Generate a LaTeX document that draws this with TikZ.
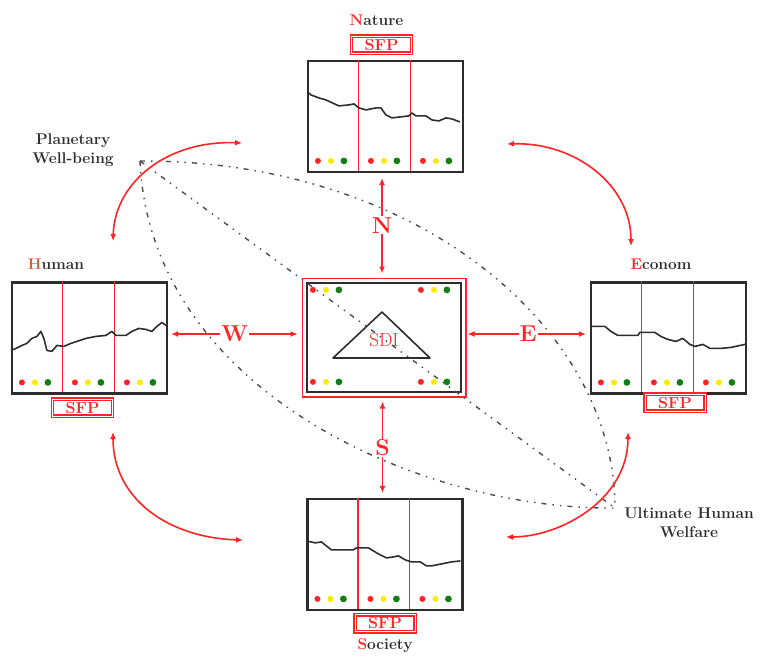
\documentclass[tikz,border=0pt]{standalone}
\usepackage{tikz}
\usetikzlibrary{arrows.meta,positioning,fit}
\definecolor{sfpred}{RGB}{255,35,35}
\definecolor{ink}{RGB}{45,45,45}
\definecolor{humancol}{RGB}{215,95,55}
\definecolor{tlyellow}{RGB}{250,235,0}
\definecolor{tlgreen}{RGB}{20,125,20}
\tikzset{
  chart/.style={draw=ink,line width=2.2pt,minimum width=155pt,minimum height=111pt,inner sep=0pt},
  sfp/.style={draw=sfpred,line width=1.4pt,double=white,double distance=1pt,text=sfpred,
              font=\fontsize{16}{16}\selectfont\bfseries,minimum width=60pt,minimum height=17pt,inner sep=0pt},
  title/.style={text=ink,font=\fontsize{15.5}{19}\selectfont\bfseries,inner sep=0pt,align=center},
  compass/.style={text=sfpred,fill=white,font=\fontsize{23}{23}\selectfont\bfseries,inner sep=1pt},
  link/.style={{Latex[length=7pt,width=6pt]}-{Latex[length=7pt,width=6pt]},draw=sfpred,line width=1.8pt},
  swing/.style={link,line width=1.6pt},
  divide/.style={draw=sfpred,line width=1.4pt},
  trend/.style={draw=ink,line width=1.6pt,line join=round},
  welfare/.style={draw=ink!85,line width=1.4pt,dash pattern=on 5pt off 6pt on 1.5pt off 6pt on 1.5pt off 6pt},
}
% three traffic lights round (x,y)
\newcommand\lights[2]{%
  \fill[sfpred] (#1-13,#2) circle[radius=3pt];
  \fill[tlyellow] (#1,#2) circle[radius=3pt];
  \fill[tlgreen] (#1+13,#2) circle[radius=3.4pt];}
% red thirds and lights inside a chart
\newcommand\thirds{%
  \draw[divide] (51.7,0) -- (51.7,111);
  \draw[divide] (103.3,0) -- (103.3,111);
  \lights{24}{101}\lights{77}{101}\lights{129}{101}}

\begin{document}
\begin{tikzpicture}[x=1pt,y=-1pt]
  \useasboundingbox (0,0) rectangle (761,662);

  % the four sheets
  \node[chart] (nat) at (385.5,116.5) {};
  \node[chart] (hum) at (89.5,338) {};
  \node[chart] (eco) at (668.5,338) {};
  \node[chart] (soc) at (385,554.5) {};

  \begin{scope}[shift={(nat.north west)}]
    \thirds
    \draw[trend] (2,33) -- (4,35) -- (12,38) -- (19,40) -- (32,46) -- (42,45) -- (47,44) -- (52,48)
      -- (59,50) -- (69,48) -- (74,48) -- (79,55) -- (85,58) -- (102,56) -- (105,53) -- (109,56)
      -- (119,56) -- (125,60) -- (132,61) -- (139,58) -- (145,59) -- (153,62);
  \end{scope}
  \begin{scope}[shift={(hum.north west)}]
    \thirds
    \draw[trend] (0,69) -- (5,67) -- (11,64) -- (16,62) -- (21,57) -- (26,55) -- (30,50) -- (33,57)
      -- (36,69) -- (41,70) -- (46,64) -- (53,65) -- (60,62) -- (66,60) -- (75,57) -- (85,55)
      -- (95,54) -- (101,50) -- (105,54) -- (115,54) -- (121,50) -- (128,47) -- (135,48)
      -- (141,50) -- (146,45) -- (151,41) -- (155,44);
  \end{scope}
  \begin{scope}[shift={(eco.north west)}]
    \thirds
    \draw[trend] (0,45) -- (5,45) -- (15,45) -- (21,50) -- (28,54) -- (48,54) -- (50,51) -- (65,51)
      -- (71,55) -- (78,58) -- (86,60) -- (93,57) -- (100,63) -- (105,65) -- (113,63) -- (120,67)
      -- (131,67) -- (141,66) -- (155,63);
  \end{scope}
  \begin{scope}[shift={(soc.north west)}]
    \thirds
    \draw[trend] (0,43) -- (9,45) -- (15,44) -- (20,48) -- (25,52) -- (47,52) -- (50,50) -- (62,50)
      -- (72,56) -- (80,60) -- (87,59) -- (92,58) -- (99,62) -- (105,64) -- (114,64) -- (120,68)
      -- (125,68) -- (135,66) -- (145,64) -- (154,63);
  \end{scope}

  % SFP tags and names
  \node[sfp,above=6pt of nat,xshift=-4pt] (nsfp) {SFP};
  \node[sfp,below=4pt of hum,xshift=-7pt] (hsfp) {SFP};
  \node[sfp,below=-1pt of eco,xshift=6.5pt] (esfp) {SFP};
  \node[sfp,below=3pt of soc] (ssfp) {SFP};
  \node[title,above=10pt of nsfp,xshift=-5pt] (ntitle) {\textcolor{sfpred}{N}ature};
  \node[title,anchor=south] (htitle) at (56,270) {\textcolor{humancol}{H}uman};
  \node[title,anchor=south] (etitle) at (661,270) {\textcolor{sfpred}{E}conom};
  \node[title,below=6pt of ssfp] (stitle) {\textcolor{sfpred}{S}ociety};

  % the SDI sheet
  \node[draw=ink,line width=2.2pt,minimum width=154pt,minimum height=109pt,inner sep=0pt] (sdi) at (384,337.5) {};
  \node[draw=sfpred,line width=1.8pt,fit=(sdi),inner sep=3.5pt] (frame) {};
  \begin{scope}[shift={(sdi.north west)}]
    \lights{20}{8}\lights{128}{8}\lights{20}{100}\lights{128}{100}
  \end{scope}
  \draw[ink,line width=1.6pt,line join=round] (382,312) -- (333,358) -- (430,358) -- cycle;
  \node[text=sfpred,font=\fontsize{19}{19}\selectfont] (sdilabel) at (384,340) {SDI};

  % welfare lens
  \node[title] (pwb) at (73,150) {Planetary\\Well-being};
  \node[title] (uhw) at (689,523) {Ultimate Human\\Welfare};
  \coordinate (pw) at (140,161);
  \coordinate (uw) at (615,508);
  \draw[welfare] (pw) .. controls (420,160) and (615,330) .. (uw);
  \draw[welfare] (pw) .. controls (150,390) and (420,510) .. (uw);
  \draw[welfare] (pw) -- (uw);

  % links to the SDI
  \draw[link,shorten <=5pt,shorten >=4pt] ([xshift=-3.5pt]nat.south) -- node[compass]{N} ([xshift=-3.5pt]nat.south |- frame.north);
  \draw[link,shorten <=5pt,shorten >=4pt] ([xshift=-2.5pt]soc.north) -- node[compass]{S} ([xshift=-2.5pt]soc.north |- frame.south);
  \draw[link,shorten <=3pt,shorten >=4pt] ([yshift=4pt]hum.east) -- node[compass]{W} ([yshift=4pt]hum.east -| frame.west);
  \draw[link,shorten <=1pt,shorten >=4pt] ([yshift=4pt]eco.west -| frame.east) -- node[compass]{E} ([yshift=4pt]eco.west);

  % turning arrows between the sheets
  \coordinate (hup) at (113,241);
  \coordinate (nleft) at (242,143);
  \coordinate (nright) at (507,144);
  \coordinate (edown) at (631,246);
  \coordinate (eup) at (628,432);
  \coordinate (sright) at (506,537);
  \coordinate (sleft) at (243,540);
  \coordinate (hdown) at (113,432);
  \draw[swing] (hup) .. controls (115,180) and (170,140) .. (nleft);
  \draw[swing] (nright) .. controls (575,142) and (631,185) .. (edown);
  \draw[swing] (eup) .. controls (628,500) and (560,537) .. (sright);
  \draw[swing] (sleft) .. controls (170,538) and (113,500) .. (hdown);
\end{tikzpicture}
\end{document}
